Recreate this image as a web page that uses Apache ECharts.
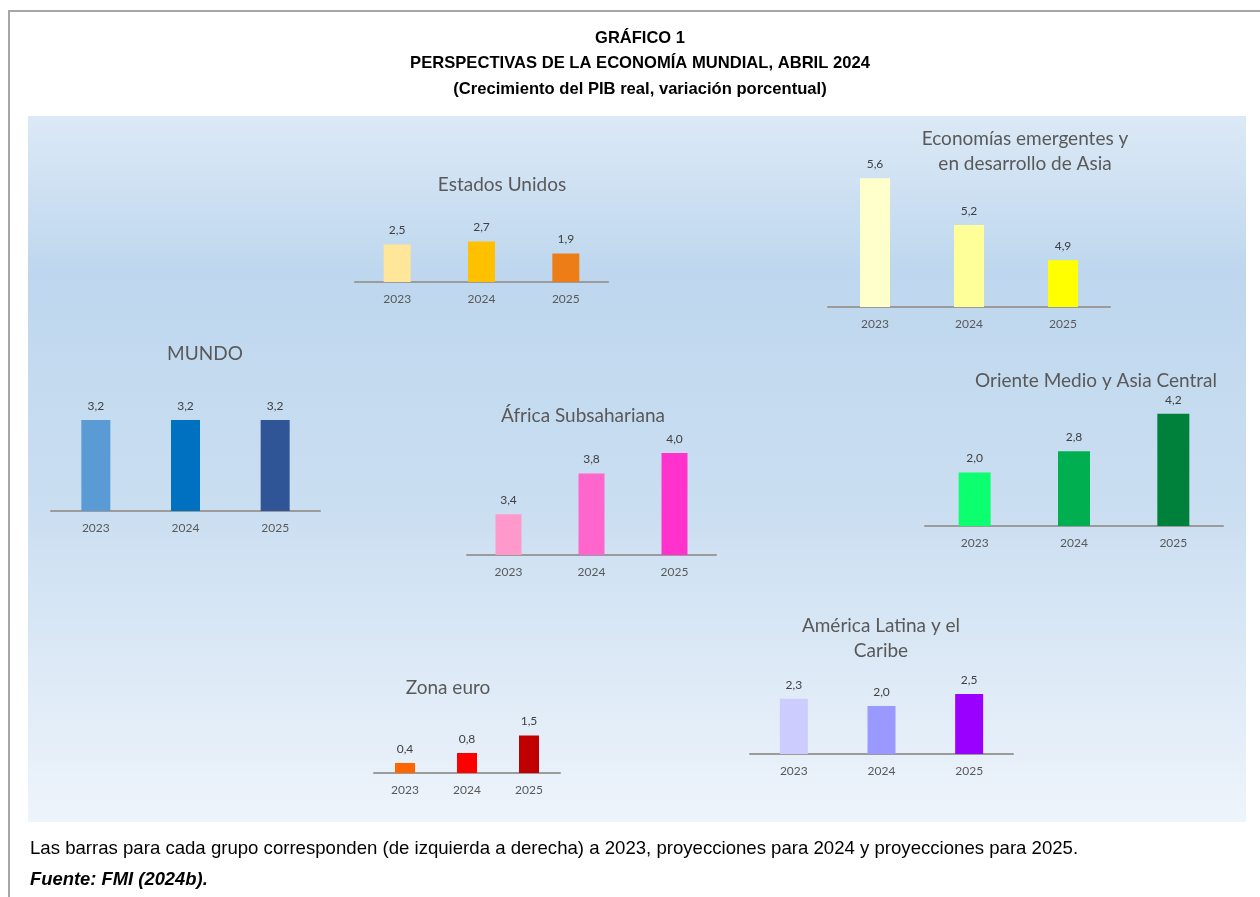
<!DOCTYPE html>
<html>
<head>
<meta charset="utf-8">
<script src="https://cdn.jsdelivr.net/npm/echarts@6/dist/echarts.min.js"></script>
<style>
  html, body { margin: 0; padding: 0; background: #fff; }
  #chart { width: 1260px; height: 897px; }
</style>
</head>
<body>
<div id="chart"></div>
<script>
// data
const years = ['2023', '2024', '2025'];
const mundo = [3.2, 3.2, 3.2];
const estadosUnidos = [2.5, 2.7, 1.9];
const asiaEmergente = [5.6, 5.2, 4.9];
const africaSub = [3.4, 3.8, 4.0];
const orienteMedio = [2.0, 2.8, 4.2];
const zonaEuro = [0.4, 0.8, 1.5];
const americaLatina = [2.3, 2.0, 2.5];

// layout + style for each small chart (x0..x1 = axis line, base = y of axis line)
const panels = [
  { name: 'MUNDO', data: mundo, x0: 51, x1: 320, base: 511, min: 0, max: 4, ppu: 28.4, bw: 29,
    titleX: 205, titleY: 354, colors: ['#5B9BD5', '#0070C0', '#2F5597'] },
  { name: 'Estados Unidos', data: estadosUnidos, x0: 355, x1: 608, base: 282, min: 0, max: 3, ppu: 15, bw: 27,
    titleX: 502, titleY: 185, colors: ['#FFE699', '#FFC000', '#ED7D17'] },
  { name: 'Economías emergentes y\nen desarrollo de Asia', data: asiaEmergente, x0: 828, x1: 1110, base: 307, min: 4.5, max: 6, ppu: 117, bw: 30,
    titleX: 1025, titleY: 151, colors: ['#FFFFCC', '#FFFF99', '#FFFF00'] },
  { name: 'África Subsahariana', data: africaSub, x0: 467, x1: 716, base: 555, min: 3, max: 4.5, ppu: 102, bw: 26,
    titleX: 583, titleY: 416, colors: ['#FF99CC', '#FF66CC', '#FF33CC'] },
  { name: 'Oriente Medio y Asia Central', data: orienteMedio, x0: 925, x1: 1223, base: 526, min: 0, max: 5, ppu: 26.7, bw: 32,
    titleX: 1096, titleY: 381, colors: ['#0BFF6E', '#00B050', '#00813B'] },
  { name: 'Zona euro', data: zonaEuro, x0: 374, x1: 560, base: 773, min: 0, max: 2, ppu: 25, bw: 20,
    titleX: 448, titleY: 688, colors: ['#FF6600', '#FF0000', '#C00000'] },
  { name: 'América Latina y el\nCaribe', data: americaLatina, x0: 750, x1: 1013, base: 754, min: 0, max: 3, ppu: 24, bw: 28,
    titleX: 881, titleY: 638, colors: ['#CCCCFF', '#9999FF', '#9900FF'] }
];

const FONT = 'Lato';
const grid = [], xAxis = [], yAxis = [], series = [], texts = [];

panels.forEach((p, i) => {
  const h = (p.max - p.min) * p.ppu;
  grid.push({ left: p.x0, top: p.base - h, width: p.x1 - p.x0, height: h });
  xAxis.push({
    type: 'category', gridIndex: i, data: years,
    axisLine: { lineStyle: { color: '#9b9b9b', width: 2 } },
    axisTick: { show: false },
    axisLabel: { color: '#595959', fontFamily: FONT, fontSize: 12, margin: 11 }
  });
  yAxis.push({ type: 'value', gridIndex: i, min: p.min, max: p.max, show: false, splitLine: { show: false } });
  series.push({
    type: 'bar', xAxisIndex: i, yAxisIndex: i, barWidth: p.bw,
    data: p.data.map((v, j) => ({ value: v, itemStyle: { color: p.colors[j] } })),
    label: {
      show: true, position: 'top', distance: 8,
      color: '#404040', fontFamily: FONT, fontSize: 12,
      formatter: (d) => d.value.toFixed(1).replace('.', ',')
    }
  });
  texts.push({
    type: 'text', x: p.titleX, y: p.titleY, z: 10,
    style: { text: p.name, fill: '#595959', font: '19px ' + FONT, align: 'center', verticalAlign: 'middle', lineHeight: 25 }
  });
});

const chart = echarts.init(document.getElementById('chart'));
chart.setOption({
  animation: false,
  backgroundColor: '#ffffff',
  grid, xAxis, yAxis, series,
  graphic: [
    { type: 'rect', shape: { x: 8, y: 10, width: 1252, height: 2 }, style: { fill: '#a6a6a6' } },
    { type: 'rect', shape: { x: 8, y: 10, width: 2, height: 887 }, style: { fill: '#a6a6a6' } },
    {
      type: 'rect', z: -10, shape: { x: 28, y: 116, width: 1218, height: 706 },
      style: {
        fill: new echarts.graphic.LinearGradient(0, 0, 0, 1, [
          { offset: 0, color: '#dce9f6' },
          { offset: 0.22, color: '#bed7ee' },
          { offset: 0.55, color: '#cadef1' },
          { offset: 1, color: '#eef4fb' }
        ])
      }
    },
    { type: 'text', x: 640, y: 38, style: { text: 'GRÁFICO 1', font: 'bold 16.5px "Liberation Sans"', fill: '#000', align: 'center', verticalAlign: 'middle' } },
    { type: 'text', x: 640, y: 63, style: { text: 'PERSPECTIVAS DE LA ECONOMÍA MUNDIAL, ABRIL 2024', font: 'bold 16.6px "Liberation Sans"', fill: '#000', align: 'center', verticalAlign: 'middle' } },
    { type: 'text', x: 640, y: 89, style: { text: '(Crecimiento del PIB real, variación porcentual)', font: 'bold 16.6px "Liberation Sans"', fill: '#000', align: 'center', verticalAlign: 'middle' } },
    { type: 'text', x: 30, y: 849, style: { text: 'Las barras para cada grupo corresponden (de izquierda a derecha) a 2023, proyecciones para 2024 y proyecciones para 2025.', font: '18.6px "Liberation Sans"', fill: '#000', align: 'left', verticalAlign: 'middle' } },
    { type: 'text', x: 30, y: 880, style: { text: 'Fuente: FMI (2024b).', font: 'italic bold 18.4px "Liberation Sans"', fill: '#000', align: 'left', verticalAlign: 'middle' } }
  ].concat(texts)
});
</script>
</body>
</html>
